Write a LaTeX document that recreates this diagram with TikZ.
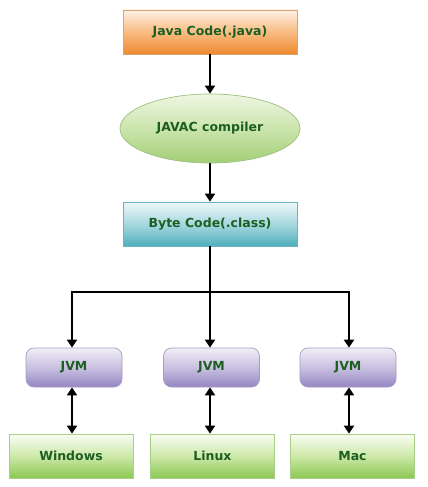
\documentclass[tikz,border=0pt]{standalone}
\usepackage{fontspec}
\setmainfont{DejaVu Sans}
\usetikzlibrary{shapes.geometric,arrows.meta}
\definecolor{txt}{HTML}{1D5E22}
\definecolor{orT}{HTML}{FFF1E4}
\definecolor{orM}{HTML}{F8BC82}
\definecolor{orB}{HTML}{EE8A30}
\definecolor{orD}{HTML}{D9A36E}
\definecolor{gT}{HTML}{EEF6E2}
\definecolor{gM}{HTML}{CBE5AC}
\definecolor{gB}{HTML}{A2CF76}
\definecolor{gD}{HTML}{9EC07E}
\definecolor{tT}{HTML}{EEF8FA}
\definecolor{tM}{HTML}{A8D8DF}
\definecolor{tB}{HTML}{4FAFBC}
\definecolor{tD}{HTML}{6CB4BE}
\definecolor{vT}{HTML}{F1EEF7}
\definecolor{vM}{HTML}{C9C0E0}
\definecolor{vB}{HTML}{9486C4}
\definecolor{vD}{HTML}{A79CC4}
\definecolor{lT}{HTML}{FAFDF5}
\definecolor{lM}{HTML}{CDE9A8}
\definecolor{lB}{HTML}{8CC753}
\definecolor{lD}{HTML}{A9CF88}
\tikzset{
  x=1pt,y=-1pt,
  lbl/.style={font=\bfseries\fontsize{12.5}{14}\selectfont, text=txt},
  orangebox/.style={lbl, rectangle, draw=orD, line width=0.7pt, minimum width=174pt, minimum height=44pt, top color=orT, bottom color=orB, middle color=orM},
  greenell/.style={lbl, ellipse, draw=gD, line width=0.7pt, minimum width=180pt, minimum height=69pt, top color=gT, bottom color=gB, middle color=gM},
  tealbox/.style={lbl, rectangle, draw=tD, line width=0.7pt, minimum width=174pt, minimum height=44pt, top color=tT, bottom color=tB, middle color=tM},
  jvmbox/.style={lbl, rectangle, rounded corners=8pt, draw=vD, line width=0.7pt, minimum width=96pt, minimum height=39pt, top color=vT, bottom color=vB, middle color=vM},
  osbox/.style={lbl, rectangle, draw=lD, line width=0.7pt, minimum width=124pt, minimum height=44pt, top color=lT, bottom color=lB, middle color=lM},
  arr/.style={line width=2.6pt, -{Triangle[length=8pt,width=10pt]}},
  darr/.style={line width=2.6pt, {Triangle[length=8pt,width=10pt]}-{Triangle[length=8pt,width=10pt]}},
  ln/.style={line width=2.6pt}
}
\begin{document}
\begin{tikzpicture}
\useasboundingbox[fill=white] (0,0) rectangle (428,487);
\node[orangebox] (java) at (210,32) {Java Code(.java)};
\node[greenell] (javac) at (210,128.5) {JAVAC compiler};
\node[tealbox] (byte) at (210,224) {Byte Code(.class)};
\node[jvmbox] (jvm1) at (74,367.5) {JVM};
\node[jvmbox] (jvm2) at (211.5,367.5) {JVM};
\node[jvmbox] (jvm3) at (348,367.5) {JVM};
\node[osbox] (win) at (71,456) {Windows};
\node[osbox] (lin) at (212.5,456) {Linux};
\node[osbox] (mac) at (352.5,456) {Mac};
\coordinate (split) at (210,292);
\coordinate (left) at (72,292);
\coordinate (right) at (349,292);
\draw[arr] (java) -- (javac);
\draw[arr] (javac) -- (byte);
\draw[ln] (byte.south) -- (split);
\draw[ln,line cap=rect] (left) -- (right);
\draw[arr] (left) -- (left |- jvm1.north);
\draw[arr] (split) -- (split |- jvm2.north);
\draw[arr] (right) -- (right |- jvm3.north);
\draw[darr] (jvm1.south -| 72,0) -- (win.north -| 72,0);
\draw[darr] (jvm2.south -| 210,0) -- (lin.north -| 210,0);
\draw[darr] (jvm3.south -| 349,0) -- (mac.north -| 349,0);
\end{tikzpicture}
\end{document}
